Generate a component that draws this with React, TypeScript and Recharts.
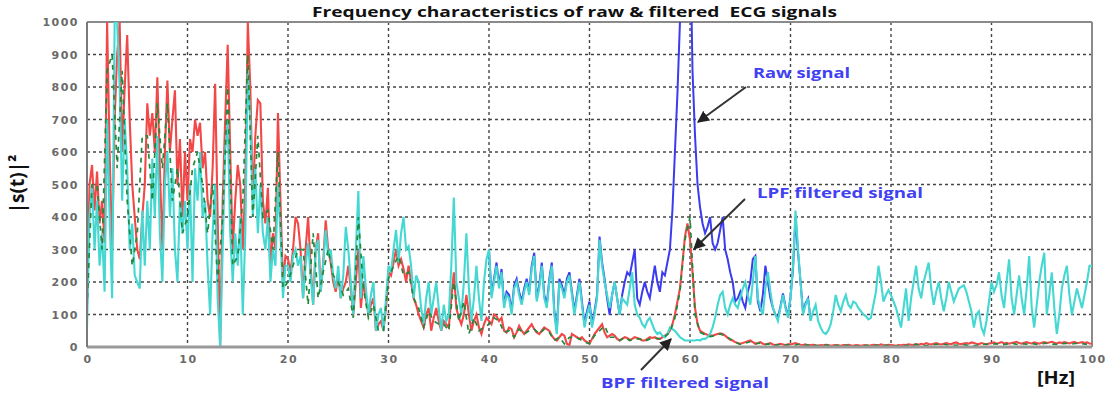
import { CartesianGrid, Line, LineChart, ReferenceLine, XAxis, YAxis } from 'recharts'

// spectrum sampled every 0.25 Hz from 0 to 100 Hz
const FREQ = Array.from({ length: 401 }, (_, i) => i * 0.25)

// BPF filtered signal (cyan)
const BPF = [
  60, 400, 500, 300, 450, 250, 350, 170, 700, 400, 150, 1000, 1000, 800, 450, 700, 550, 300, 380, 220,
  200, 180, 420, 250, 450, 300, 580, 400, 650, 350, 200, 500, 600, 400, 550, 300, 200, 450, 350, 450,
  300, 500, 200, 550, 450, 600, 400, 450, 250, 100, 350, 500, 150, 0, 300, 600, 700, 350, 200, 350,
  250, 400, 100, 350, 850, 700, 400, 550, 350, 500, 350, 300, 400, 200, 300, 250, 500, 350, 150, 250,
  250, 200, 280, 300, 250, 280, 150, 250, 320, 220, 130, 300, 330, 170, 250, 360, 280, 300, 220, 180,
  250, 150, 220, 370, 300, 200, 100, 300, 480, 150, 280, 180, 100, 160, 200, 50, 100, 120, 50, 150,
  250, 230, 300, 360, 260, 350, 400, 300, 310, 250, 150, 220, 200, 120, 70, 150, 200, 100, 150, 200,
  120, 50, 130, 80, 100, 250, 460, 200, 150, 100, 200, 350, 180, 80, 150, 250, 150, 80, 200, 270,
  300, 150, 200, 250, 180, 230, 120, 160, 150, 100, 180, 200, 160, 130, 170, 200, 160, 240, 280, 140,
  180, 250, 150, 120, 200, 250, 100, 40, 200, 180, 150, 200, 220, 160, 100, 150, 200, 130, 60, 100,
  130, 60, 100, 150, 330, 250, 200, 160, 120, 160, 200, 150, 100, 150, 140, 130, 180, 230, 130, 100,
  90, 70, 60, 80, 90, 70, 50, 40, 45, 35, 30, 40, 60, 55, 50, 40, 30, 25, 20, 20,
  20, 20, 20, 22, 20, 25, 25, 30, 40, 60, 90, 130, 160, 170, 120, 100, 130, 150, 130, 120,
  150, 180, 200, 160, 130, 200, 280, 150, 120, 100, 180, 230, 170, 120, 100, 80, 120, 160, 120, 90,
  150, 250, 420, 300, 200, 100, 130, 150, 80, 110, 130, 80, 60, 45, 40, 50, 70, 110, 160, 130,
  110, 140, 160, 130, 120, 140, 135, 120, 110, 100, 95, 85, 90, 130, 170, 250, 200, 140, 160, 175,
  160, 140, 120, 90, 60, 120, 180, 80, 150, 200, 250, 180, 150, 200, 230, 260, 180, 130, 170, 200,
  150, 110, 150, 200, 170, 140, 160, 180, 185, 190, 170, 140, 110, 60, 100, 110, 60, 40, 80, 140,
  200, 170, 190, 230, 160, 120, 200, 270, 150, 100, 160, 220, 150, 100, 180, 280, 120, 60, 130, 200,
  250, 290, 100, 160, 230, 120, 40, 100, 180, 220, 250, 160, 100, 140, 180, 150, 120, 160, 200, 250, 250,
]

// LPF filtered signal (red)
const LPF = [
  130, 500, 560, 420, 540, 380, 450, 320, 1000, 600, 300, 700, 900, 1000, 600, 800, 960, 700, 500, 400,
  300, 270, 400, 500, 750, 650, 720, 600, 830, 550, 300, 600, 820, 600, 700, 790, 500, 640, 400, 600,
  450, 640, 600, 700, 650, 690, 550, 600, 450, 400, 550, 810, 400, 0, 450, 700, 930, 600, 300, 450,
  560, 500, 300, 500, 1000, 800, 450, 650, 760, 750, 450, 380, 490, 250, 350, 300, 720, 450, 200, 280,
  270, 230, 300, 400, 380, 300, 150, 300, 400, 250, 130, 300, 350, 170, 260, 390, 300, 260, 200, 170,
  220, 150, 180, 200, 250, 180, 100, 200, 300, 120, 200, 150, 100, 130, 150, 50, 70, 80, 50, 120,
  230, 220, 260, 300, 250, 270, 240, 200, 250, 200, 150, 130, 100, 80, 60, 100, 120, 50, 90, 120,
  80, 50, 80, 70, 60, 150, 230, 120, 90, 70, 100, 160, 100, 50, 80, 100, 60, 40, 70, 90,
  80, 70, 100, 95, 80, 90, 50, 45, 60, 55, 30, 45, 65, 50, 40, 50, 60, 70, 55, 45,
  40, 50, 60, 55, 50, 35, 25, 20, 30, 40, 35, 10, 5, 40, 35, 30, 25, 30, 20, 15,
  10, 25, 40, 50, 60, 70, 45, 30, 35, 40, 35, 25, 20, 25, 30, 28, 22, 25, 30, 28,
  25, 20, 20, 25, 30, 28, 30, 25, 25, 30, 35, 40, 50, 70, 100, 140, 180, 260, 340, 380,
  330, 230, 120, 70, 50, 45, 40, 38, 35, 35, 38, 40, 42, 40, 35, 28, 22, 20, 15, 12,
  10, 12, 15, 18, 20, 15, 10, 12, 15, 10, 8, 10, 12, 8, 6, 8, 10, 8, 6, 8,
  8, 10, 12, 9, 7, 6, 8, 5, 6, 7, 5, 4, 6, 5, 7, 6, 4, 5, 6, 5,
  4, 6, 5, 7, 5, 4, 6, 5, 4, 5, 6, 4, 5, 7, 6, 5, 8, 6, 5, 7,
  6, 5, 4, 6, 5, 7, 6, 8, 7, 6, 9, 7, 10, 8, 12, 9, 8, 10, 12, 9,
  8, 10, 12, 10, 9, 12, 14, 10, 9, 11, 12, 10, 14, 12, 10, 9, 12, 10, 8, 11,
  12, 14, 10, 12, 15, 11, 13, 10, 12, 14, 16, 12, 10, 13, 15, 12, 11, 14, 12, 10,
  13, 15, 12, 14, 16, 13, 11, 14, 12, 15, 13, 11, 14, 16, 12, 13, 15, 12, 14, 11, 10,
]

// second filtered trace (green, dashed), every 0.5 Hz
const GREEN_FREQ = Array.from({ length: 201 }, (_, i) => i * 0.5)
const GREEN = [
  120, 500, 500, 300, 850, 900, 550, 850, 450, 250, 350, 650, 650, 450, 750, 550, 750, 450, 550, 350,
  400, 550, 600, 500, 350, 500, 200, 400, 800, 250, 280, 450, 900, 400, 650, 400, 420, 300, 600, 180,
  200, 250, 300, 300, 130, 350, 150, 230, 300, 220, 200, 160, 180, 90, 400, 180, 90, 130, 50, 50,
  210, 250, 280, 220, 230, 150, 120, 60, 110, 80, 70, 70, 50, 200, 80, 140, 40, 90, 50, 60,
  70, 90, 80, 45, 50, 30, 55, 40, 50, 55, 40, 55, 45, 20, 30, 10, 30, 30, 25, 15,
  10, 35, 50, 65, 30, 30, 20, 30, 20, 25, 25, 18, 25, 28, 25, 32, 45, 90, 170, 330,
  400, 100, 45, 38, 32, 35, 40, 35, 25, 15, 8, 12, 16, 10, 12, 8, 10, 6, 8, 6,
  8, 6, 10, 5, 7, 5, 4, 6, 5, 4, 6, 5, 4, 3, 5, 4, 6, 5, 4, 5,
  4, 3, 5, 4, 6, 8, 5, 4, 6, 8, 10, 7, 6, 5, 8, 6, 4, 5, 7, 9,
  8, 10, 7, 9, 12, 8, 10, 9, 11, 8, 10, 12, 9, 8, 10, 11, 9, 12, 10, 8, 10,
]

// raw signal (blue), visible part 40 - 72 Hz
const RAW_FREQ = Array.from({ length: 129 }, (_, i) => 40 + i * 0.25)
const RAW = [
  300, 160, 210, 260, 190, 240, 130, 170, 160, 110, 190, 210, 170, 140, 180, 210, 170, 250, 290, 150,
  190, 260, 160, 130, 210, 260, 110, 50, 210, 190, 160, 210, 230, 170, 110, 160, 210, 140, 70, 110,
  140, 70, 110, 160, 340, 260, 210, 150, 100, 160, 200, 150, 100, 160, 200, 230, 220, 260, 300, 150,
  130, 170, 200, 170, 150, 200, 250, 200, 170, 230, 220, 260, 300, 420, 600, 780, 1000, 1300, 1500, 1500,
  1300, 850, 650, 500, 430, 380, 350, 370, 400, 320, 300, 320, 360, 400, 300, 270, 230, 200, 140, 150,
  170, 140, 120, 170, 200, 270, 280, 140, 110, 160, 250, 200, 150, 120, 100, 90, 125, 165, 125, 95,
  155, 240, 400, 290, 200, 105, 135, 150, 85,
]

const X_TICKS = [0, 10, 20, 30, 40, 50, 60, 70, 80, 90, 100]
const Y_TICKS = [0, 100, 200, 300, 400, 500, 600, 700, 800, 900, 1000]

const bpfData = FREQ.map((f, i) => ({ f, v: BPF[i] }))
const lpfData = FREQ.map((f, i) => ({ f, v: LPF[i] }))
const greenData = GREEN_FREQ.map((f, i) => ({ f, v: GREEN[i] }))
const rawData = RAW_FREQ.map((f, i) => ({ f, v: RAW[i] }))

const tickStyle = {
  fontFamily: 'DejaVu Sans',
  fontSize: 11,
  fontWeight: 700,
  fill: '#6a6a6a',
  letterSpacing: 1.5,
}

function XTick({ x, y, payload }: any) {
  return (
    <text x={x + 1} y={y + 16} textAnchor="middle" style={tickStyle}>
      {payload.value}
    </text>
  )
}

function YTick({ x, y, payload }: any) {
  return (
    <text x={x - 8} y={y + 4} textAnchor="end" style={tickStyle}>
      {payload.value}
    </text>
  )
}

const labelFont = { fontFamily: 'Open Sans', fontWeight: 700, whiteSpace: 'pre' as const }
const BLUE_TEXT = '#4141f2'

export default function App() {
  return (
    <div style={{ position: 'absolute', left: 0, top: 0, width: 1119, height: 403, background: '#fff' }}>
      <LineChart
        width={1119}
        height={403}
        margin={{ top: 22, right: 27, bottom: 26, left: 37 }}
      >
        <CartesianGrid stroke="#454545" strokeWidth={1.4} strokeDasharray="3 3" />
        <XAxis
          type="number"
          dataKey="f"
          domain={[0, 100]}
          ticks={X_TICKS}
          allowDataOverflow
          height={30}
          tickSize={0}
          tickMargin={0}
          tickLine={false}
          axisLine={{ stroke: '#9a9a9a', strokeWidth: 3 }}
          tick={<XTick />}
        />
        <YAxis
          type="number"
          domain={[0, 1000]}
          ticks={Y_TICKS}
          allowDataOverflow
          width={50}
          tickSize={0}
          tickMargin={0}
          tickLine={false}
          axisLine={{ stroke: '#7a7a7a', strokeWidth: 2 }}
          tick={<YTick />}
        />
        <ReferenceLine y={1000} stroke="#8a8a8a" strokeWidth={2} />
        <ReferenceLine x={100} stroke="#8a8a8a" strokeWidth={2} />
        <Line data={rawData} dataKey="v" stroke="#3b3bef" strokeWidth={2} dot={false} isAnimationActive={false} />
        <Line data={lpfData} dataKey="v" stroke="#f24848" strokeWidth={2.1} dot={false} isAnimationActive={false} />
        <Line data={bpfData} dataKey="v" stroke="#45d8d2" strokeWidth={2.1} dot={false} isAnimationActive={false} />
        <Line
          data={greenData}
          dataKey="v"
          stroke="#1e8a3c"
          strokeWidth={1.7}
          strokeDasharray="5 5"
          dot={false}
          isAnimationActive={false}
        />
      </LineChart>
      <svg
        width={1119}
        height={403}
        style={{ position: 'absolute', left: 0, top: 0, pointerEvents: 'none' }}
      >
        <defs>
          <marker id="arrow" viewBox="0 0 10 10" refX="9" refY="5" markerWidth="6" markerHeight="6" orient="auto-start-reverse">
            <path d="M0,0 L10,5 L0,10 z" fill="#222" />
          </marker>
        </defs>
        <text x={312} y={17} fontSize={15} textLength={525} lengthAdjust="spacingAndGlyphs" fill="#111" style={labelFont}>
          Frequency characteristics of raw &amp; filtered  ECG signals
        </text>
        <text
          x={24}
          y={184}
          fontSize={19}
          textAnchor="middle"
          fill="#111"
          transform="rotate(-90 24 184)"
          style={labelFont}
        >
          |s(t)|²
        </text>
        <text x={1037} y={384} fontSize={17} textLength={38} lengthAdjust="spacingAndGlyphs" fill="#111" style={labelFont}>
          [Hz]
        </text>
        <text x={753} y={78} fontSize={15} textLength={97} lengthAdjust="spacingAndGlyphs" fill={BLUE_TEXT} style={labelFont}>
          Raw signal
        </text>
        <text x={757} y={198} fontSize={15} textLength={166} lengthAdjust="spacingAndGlyphs" fill={BLUE_TEXT} style={labelFont}>
          LPF filtered signal
        </text>
        <text x={601} y={388} fontSize={15} textLength={168} lengthAdjust="spacingAndGlyphs" fill={BLUE_TEXT} style={labelFont}>
          BPF filtered signal
        </text>
        <line x1={746} y1={87} x2={698} y2={122} stroke="#333" strokeWidth={2} markerEnd="url(#arrow)" />
        <line x1={745} y1={199} x2={694} y2={249} stroke="#333" strokeWidth={2} markerEnd="url(#arrow)" />
        <line x1={641} y1={370} x2={671} y2={339} stroke="#333" strokeWidth={2} markerEnd="url(#arrow)" />
      </svg>
    </div>
  )
}
